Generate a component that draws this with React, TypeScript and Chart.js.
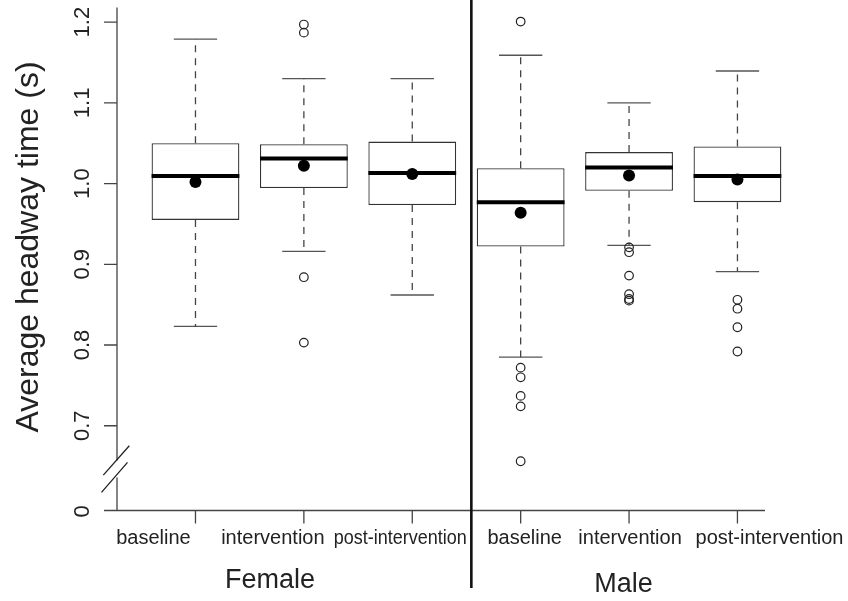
import { useEffect, useRef } from 'react';
import { Chart, registerables } from 'chart.js';

Chart.register(...registerables);

// ---------- data ----------
const categories = ['baseline', 'intervention', 'post-intervention', 'baseline', 'intervention', 'post-intervention'];
const groups = ['Female', 'Male'];
const q1 = [0.955, 0.9945, 0.9735, 0.922, 0.991, 0.977];
const q3 = [1.05, 1.0487, 1.052, 1.019, 1.039, 1.046];
const medians = [1.0094, 1.031, 1.013, 0.977, 1.02, 1.0094];
const means = [1.002, 1.022, 1.012, 0.964, 1.01, 1.005];
const whiskerLow = [0.823, 0.916, 0.862, 0.785, 0.9235, 0.891];
const whiskerHigh = [1.179, 1.13, 1.13, 1.159, 1.1, 1.1395];
const outliers: number[][] = [
  [],
  [1.197, 1.187, 0.884, 0.803],
  [],
  [1.2007, 0.772, 0.76, 0.737, 0.724, 0.656],
  [0.921, 0.915, 0.886, 0.863, 0.857, 0.855],
  [0.856, 0.845, 0.822, 0.792],
];
const yTickValues = [0.7, 0.8, 0.9, 1.0, 1.1, 1.2];
const yTickLabels = ['0.7', '0.8', '0.9', '1.0', '1.1', '1.2'];
const yBreakValue = 0.595;
const yBreakLabel = '0';
const yTitle = 'Average headway time (s)';

// ---------- layout / style constants ----------
const X_MIN = 0.276;
const X_MAX = 6.614;
const Y_MIN = yBreakValue;
const Y_MAX = 1.22;
const BOX_HALF = 0.405;
const CAP_HALF = 0.2;
const FONT = "'Liberation Sans', Arial, Helvetica, sans-serif";
const labelOffsets = [-42, -31, -12, 4, 1, 32];
const labelMaxWidth = [undefined, undefined, 133, undefined, undefined, undefined];
const groupCenters = [1.687, 4.948];
const groupBaselines = [588, 592];
const SEPARATOR_X = 3.545;

const pos = categories.map((_, i) => i + 1);

const whiskerData = pos.flatMap((x, i) => [
  { x, y: q3[i] },
  { x, y: whiskerHigh[i] },
  { x, y: null },
  { x, y: q1[i] },
  { x, y: whiskerLow[i] },
  { x, y: null },
]);
const capData = pos.flatMap((x, i) => [
  { x: x - CAP_HALF, y: whiskerHigh[i] },
  { x: x + CAP_HALF, y: whiskerHigh[i] },
  { x, y: null },
  { x: x - CAP_HALF, y: whiskerLow[i] },
  { x: x + CAP_HALF, y: whiskerLow[i] },
  { x, y: null },
]);
const medianData = pos.flatMap((x, i) => [
  { x: x - BOX_HALF, y: medians[i] },
  { x: x + BOX_HALF, y: medians[i] },
  { x, y: null },
]);

const axesPlugin = {
  id: 'rAxes',
  afterDraw(chart: any) {
    const ctx = chart.ctx as CanvasRenderingContext2D;
    const xs = chart.scales.x;
    const ys = chart.scales.y;
    const ax = xs.getPixelForValue(X_MIN);
    const y0 = ys.getPixelForValue(Y_MIN);
    ctx.save();
    ctx.strokeStyle = '#444';
    ctx.lineWidth = 1.3;
    ctx.lineCap = 'butt';

    // y axis line with break
    const b1 = ys.getPixelForValue(0.657);
    const b2 = ys.getPixelForValue(0.636);
    ctx.beginPath();
    ctx.moveTo(ax, ys.getPixelForValue(1.218));
    ctx.lineTo(ax, b1);
    ctx.moveTo(ax, b2);
    ctx.lineTo(ax, y0);
    ctx.stroke();
    // break slashes
    ctx.strokeStyle = '#222';
    ctx.beginPath();
    ctx.moveTo(ax - 0.7 - 13, b1 + 14.7);
    ctx.lineTo(ax - 0.7 + 13, b1 - 14.7);
    ctx.moveTo(ax - 2.5 - 13, b2 + 15);
    ctx.lineTo(ax - 2.5 + 13, b2 - 15);
    ctx.stroke();

    // y ticks
    ctx.strokeStyle = '#444';
    ctx.beginPath();
    yTickValues.forEach((v) => {
      const py = ys.getPixelForValue(v);
      ctx.moveTo(ax - 13, py);
      ctx.lineTo(ax, py);
    });
    ctx.stroke();

    // x axis line + ticks
    ctx.beginPath();
    ctx.moveTo(xs.getPixelForValue(0.156), y0);
    ctx.lineTo(xs.getPixelForValue(6.254), y0);
    pos.forEach((x) => {
      const px = xs.getPixelForValue(x);
      ctx.moveTo(px, y0);
      ctx.lineTo(px, y0 + 13);
    });
    ctx.stroke();

    // y tick labels (rotated)
    ctx.fillStyle = '#222';
    ctx.font = `22px ${FONT}`;
    ctx.textAlign = 'center';
    ctx.textBaseline = 'alphabetic';
    const drawRot = (text: string, x: number, y: number) => {
      ctx.save();
      ctx.translate(x, y);
      ctx.rotate(-Math.PI / 2);
      ctx.fillText(text, 0, 0);
      ctx.restore();
    };
    yTickValues.forEach((v, i) => drawRot(yTickLabels[i], 89, ys.getPixelForValue(v)));
    drawRot(yBreakLabel, 89, y0 + 1);

    // y title
    ctx.font = `32px ${FONT}`;
    drawRot(yTitle, 38, 247);

    // x labels
    ctx.font = `20px ${FONT}`;
    categories.forEach((c, i) => {
      const px = xs.getPixelForValue(pos[i]) + labelOffsets[i];
      const mw = labelMaxWidth[i];
      if (mw) ctx.fillText(c, px, 544, mw);
      else ctx.fillText(c, px, 544);
    });

    // group labels
    ctx.font = `27px ${FONT}`;
    groups.forEach((g, i) => {
      ctx.fillText(g, xs.getPixelForValue(groupCenters[i]), groupBaselines[i]);
    });

    // separator
    ctx.strokeStyle = '#111';
    ctx.lineWidth = 2.6;
    const sx = xs.getPixelForValue(SEPARATOR_X);
    ctx.beginPath();
    ctx.moveTo(sx, 0);
    ctx.lineTo(sx, 588);
    ctx.stroke();
    ctx.restore();
  },
};

export default function App() {
  const ref = useRef<HTMLCanvasElement>(null);
  useEffect(() => {
    document.body.style.margin = '0';
    const chart = new Chart(ref.current as HTMLCanvasElement, {
      type: 'bar',
      data: {
        datasets: [
          {
            type: 'bar',
            data: pos.map((x, i) => ({ x, y: [q1[i], q3[i]] })) as any,
            backgroundColor: '#ffffff',
            borderColor: '#333',
            borderWidth: 1.3,
            borderSkipped: false,
            barPercentage: 0.9,
            categoryPercentage: 0.9,
            order: 5,
          },
          {
            type: 'line',
            data: whiskerData as any,
            borderColor: '#444',
            borderWidth: 1.3,
            borderDash: [7, 6],
            pointRadius: 0,
            spanGaps: false,
            fill: false,
            tension: 0,
            order: 4,
          },
          {
            type: 'line',
            data: capData as any,
            borderColor: '#555',
            borderWidth: 1.3,
            pointRadius: 0,
            spanGaps: false,
            fill: false,
            tension: 0,
            order: 4,
          },
          {
            type: 'line',
            data: medianData as any,
            borderColor: '#000',
            borderWidth: 4,
            borderCapStyle: 'butt',
            pointRadius: 0,
            spanGaps: false,
            fill: false,
            tension: 0,
            order: 2,
          },
          {
            type: 'scatter',
            data: pos.map((x, i) => ({ x, y: means[i] })) as any,
            backgroundColor: '#000',
            borderColor: '#000',
            borderWidth: 0,
            pointRadius: 6,
            order: 1,
          },
          {
            type: 'scatter',
            data: pos.flatMap((x, i) => outliers[i].map((y) => ({ x, y }))) as any,
            backgroundColor: 'rgba(0,0,0,0)',
            borderColor: '#222',
            borderWidth: 1.2,
            pointRadius: 4.3,
            order: 1,
          },
        ],
      },
      options: {
        responsive: false,
        animation: false,
        devicePixelRatio: 1,
        events: [],
        layout: { padding: { left: 117, right: 44, top: 5.85, bottom: 90.5 } },
        plugins: { legend: { display: false }, tooltip: { enabled: false }, title: { display: false } },
        scales: {
          x: {
            type: 'linear',
            min: X_MIN,
            max: X_MAX,
            offset: false,
            display: false,
            afterBuildTicks: (s: any) => {
              s.ticks = pos.map((v) => ({ value: v }));
            },
          },
          y: {
            type: 'linear',
            min: Y_MIN,
            max: Y_MAX,
            display: false,
          },
        },
      },
      plugins: [axesPlugin],
    } as any);
    return () => chart.destroy();
  }, []);
  return (
    <div style={{ width: 848, height: 601 }}>
      <canvas ref={ref} width={848} height={601} style={{ display: 'block' }} />
    </div>
  );
}
